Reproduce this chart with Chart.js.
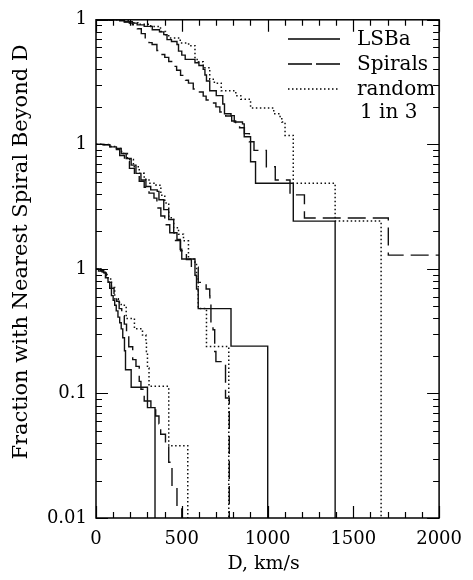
<!DOCTYPE html>
<html>
<head>
<meta charset="utf-8">
<script src="https://cdn.jsdelivr.net/npm/chart.js@4.4.1/dist/chart.umd.min.js"></script>
<style>
  html, body { margin: 0; padding: 0; background: #fff; }
  #wrap { width: 473px; height: 580px; }
</style>
</head>
<body>
<div id="wrap"><canvas id="grafico"></canvas></div>
<script>
// fraction with nearest spiral beyond D, three panels stacked on one log axis
// top panel shifted x100, middle x10, bottom x1
const offsets = [100, 10, 1]

const topLsbaD = [0, 138, 165, 195, 240, 281, 328, 370, 395, 414, 440, 472, 481, 500, 520, 577, 600, 625, 635, 644, 663, 701, 739, 749, 787, 806, 854, 864, 901, 930, 1150, 1394]
const topLsbaF = [1, 0.98, 0.96, 0.941, 0.91, 0.885, 0.833, 0.8, 0.76, 0.693, 0.67, 0.633, 0.56, 0.52, 0.481, 0.452, 0.43, 0.40, 0.36, 0.323, 0.269, 0.246, 0.211, 0.176, 0.17, 0.151, 0.146, 0.115, 0.0725, 0.0487, 0.0242, 0]

const topSpirD = [0, 80, 166, 212, 241, 264, 287, 309, 327, 355, 378, 401, 424, 453, 470, 493, 522, 539, 567, 596, 625, 642, 671, 699, 722, 756, 791, 814, 837, 865, 894, 921, 993, 1045, 1131, 1215, 1704, 2000]
const topSpirF = [1, 0.99, 0.964, 0.912, 0.848, 0.774, 0.693, 0.656, 0.633, 0.567, 0.527, 0.499, 0.463, 0.423, 0.393, 0.358, 0.327, 0.31, 0.278, 0.263, 0.244, 0.227, 0.215, 0.2, 0.182, 0.169, 0.154, 0.146, 0.136, 0.122, 0.105, 0.0895, 0.0661, 0.0518, 0.0393, 0.0256, 0.0129, 0.0129]

const topRandD = [0, 138, 195, 250, 319, 376, 405, 424, 491, 540, 577, 596, 625, 663, 690, 730, 815, 844, 901, 1036, 1073, 1083, 1102, 1150, 1394, 1662]
const topRandF = [1, 0.99, 0.947, 0.92, 0.885, 0.807, 0.76, 0.715, 0.652, 0.62, 0.481, 0.46, 0.413, 0.333, 0.31, 0.269, 0.246, 0.23, 0.196, 0.176, 0.165, 0.151, 0.118, 0.0487, 0.0242, 0]

const midLsbaD = [0, 42, 80, 119, 147, 176, 205, 233, 262, 291, 319, 357, 367, 395, 424, 453, 472, 491, 500, 577, 586, 596, 787, 1001]
const midLsbaF = [1, 0.99, 0.954, 0.925, 0.844, 0.77, 0.681, 0.585, 0.518, 0.459, 0.431, 0.419, 0.359, 0.299, 0.249, 0.195, 0.172, 0.144, 0.12, 0.089, 0.069, 0.048, 0.024, 0]

const midSpirD = [0, 40, 80, 109, 138, 166, 195, 224, 252, 281, 309, 338, 355, 378, 401, 430, 458, 493, 527, 556, 596, 642, 663, 664, 670, 682, 692, 699, 755, 777]
const midSpirF = [1, 0.995, 0.96, 0.908, 0.814, 0.729, 0.641, 0.564, 0.506, 0.453, 0.406, 0.37, 0.308, 0.266, 0.226, 0.195, 0.169, 0.14, 0.119, 0.103, 0.078, 0.069, 0.061, 0.052, 0.036, 0.0325, 0.0217, 0.018, 0.0092, 0]

const midRandD = [0, 40, 80, 115, 149, 183, 218, 252, 281, 309, 350, 378, 401, 424, 453, 481, 510, 539, 577, 586, 596, 644, 774]
const midRandF = [1, 0.995, 0.96, 0.925, 0.844, 0.757, 0.66, 0.585, 0.524, 0.488, 0.47, 0.39, 0.338, 0.257, 0.214, 0.19, 0.168, 0.12, 0.113, 0.083, 0.048, 0.0238, 0]

const botLsbaD = [0, 15, 42, 55, 70, 80, 90, 100, 109, 118, 128, 138, 147, 156, 166, 172, 205, 300, 344]
const botLsbaF = [1, 0.96, 0.94, 0.85, 0.78, 0.70, 0.61, 0.56, 0.51, 0.46, 0.41, 0.37, 0.33, 0.28, 0.22, 0.155, 0.112, 0.077, 0]

const botSpirD = [0, 25, 45, 60, 75, 90, 105, 120, 135, 150, 165, 178, 191, 214, 233, 252, 262, 281, 320, 348, 367, 377, 405, 424, 443, 472, 500]
const botSpirF = [1, 0.97, 0.93, 0.86, 0.78, 0.70, 0.62, 0.55, 0.48, 0.42, 0.36, 0.30, 0.237, 0.187, 0.165, 0.125, 0.108, 0.087, 0.075, 0.066, 0.057, 0.047, 0.038, 0.028, 0.018, 0.0125, 0]

const botRandD = [0, 30, 52, 70, 90, 109, 130, 147, 176, 224, 271, 291, 294, 300, 309, 424, 535]
const botRandF = [1, 0.95, 0.9, 0.83, 0.71, 0.575, 0.54, 0.51, 0.40, 0.33, 0.294, 0.26, 0.217, 0.16, 0.114, 0.038, 0]

const yTickLabels = ['0.01', '0.1', '1', '1', '1']
const legendLabels = ['LSBa', 'Spirals', 'random', '1 in 3']

const FONTE = 'DejaVu Serif'
const SOLIDO = []
const TRACO = [18, 7]
const PONTO = [1.5, 2.5]
const PISO = 0.001 // a fraction of zero falls off the bottom of the log axis

function curva(d, f, off, dash) {
    return {
        data: d.map((v, i) => ({ x: v, y: Math.max(f[i] * off, PISO) })),
        borderColor: '#111',
        borderWidth: dash === PONTO ? 1.5 : 1.4,
        borderDash: dash,
        borderCapStyle: 'butt',
        stepped: true,
        pointRadius: 0,
        fill: false,
    }
}

const datasets = [
    curva(topLsbaD, topLsbaF, offsets[0], SOLIDO),
    curva(topSpirD, topSpirF, offsets[0], TRACO),
    curva(topRandD, topRandF, offsets[0], PONTO),
    curva(midLsbaD, midLsbaF, offsets[1], SOLIDO),
    curva(midSpirD, midSpirF, offsets[1], TRACO),
    curva(midRandD, midRandF, offsets[1], PONTO),
    curva(botLsbaD, botLsbaF, offsets[2], SOLIDO),
    curva(botSpirD, botSpirF, offsets[2], TRACO),
    curva(botRandD, botRandF, offsets[2], PONTO),
]

// frame with inward ticks, legend and axis titles
const moldura = {
    id: 'moldura',
    afterDraw(chart) {
        const { ctx, chartArea: a, scales: { x, y } } = chart
        ctx.save()
        ctx.strokeStyle = '#000'
        ctx.setLineDash([])
        ctx.lineWidth = 1.5
        ctx.strokeRect(a.left, a.top, a.right - a.left, a.bottom - a.top)

        ctx.lineWidth = 1.2
        ctx.beginPath()
        for (let v = 0; v <= 2000; v += 100) {
            const px = Math.round(x.getPixelForValue(v)) + 0.5
            const len = v % 500 === 0 ? 12 : 6
            ctx.moveTo(px, a.bottom); ctx.lineTo(px, a.bottom - len)
            ctx.moveTo(px, a.top); ctx.lineTo(px, a.top + len)
        }
        for (let e = -2; e <= 2; e++) {
            for (let k = 1; k < 10; k++) {
                const v = k * Math.pow(10, e)
                if (v > 100) break
                const py = Math.round(y.getPixelForValue(v)) + 0.5
                const len = k === 1 ? 12 : 6
                ctx.moveTo(a.left, py); ctx.lineTo(a.left + len, py)
                ctx.moveTo(a.right, py); ctx.lineTo(a.right - len, py)
            }
        }
        ctx.stroke()

        // legend
        ctx.fillStyle = '#000'
        ctx.font = '20px "' + FONTE + '"'
        ctx.textBaseline = 'alphabetic'
        ctx.textAlign = 'left'
        const estilos = [SOLIDO, TRACO, PONTO]
        const bases = [45, 70, 95, 118]
        legendLabels.forEach((t, i) => {
            ctx.fillText(t, i === 3 ? 360 : 357, bases[i])
            if (i < 3) {
                ctx.beginPath()
                ctx.setLineDash(estilos[i] === TRACO ? [24, 4] : estilos[i])
                ctx.lineWidth = 1.3
                ctx.moveTo(288, bases[i] - 6)
                ctx.lineTo(340, bases[i] - 6)
                ctx.stroke()
            }
        })
        ctx.setLineDash([])

        // axis titles
        ctx.textAlign = 'center'
        ctx.textBaseline = 'middle'
        ctx.font = '19px "' + FONTE + '"'
        ctx.fillText('D, km/s', (a.left + a.right) / 2 - 4, 564)
        ctx.font = '21px "' + FONTE + '"'
        ctx.translate(22, 252)
        ctx.rotate(-Math.PI / 2)
        ctx.fillText('Fraction with Nearest Spiral Beyond D', 0, 0)
        ctx.restore()
    }
}

const meuchart = document.getElementById('grafico')

const config = {
    type: 'line',
    data: { datasets: datasets },
    options: {
        responsive: true,
        maintainAspectRatio: false,
        animation: false,
        layout: { padding: { top: 15, right: 28, left: 0, bottom: 0 } },
        plugins: {
            legend: { display: false },
            tooltip: { enabled: false },
        },
        scales: {
            x: {
                type: 'linear',
                min: 0,
                max: 2000,
                grid: { display: false, drawTicks: false },
                border: { display: false },
                ticks: {
                    stepSize: 500,
                    padding: 11,
                    maxRotation: 0,
                    color: '#000',
                    font: { size: 18, family: FONTE },
                    callback: (v) => String(v),
                },
                afterFit: (s) => { s.height = 62 },
            },
            y: {
                type: 'logarithmic',
                min: 0.01,
                max: 100,
                grid: { display: false, drawTicks: false },
                border: { display: false },
                afterBuildTicks: (s) => {
                    s.ticks = [0.01, 0.1, 1, 10, 100].map(v => ({ value: v }))
                },
                ticks: {
                    padding: 9,
                    color: '#000',
                    font: { size: 18, family: FONTE },
                    callback: (v) => yTickLabels[Math.round(Math.log10(v)) + 2],
                },
                afterFit: (s) => { s.width = 96 },
            },
        },
    },
    plugins: [moldura],
}

const chart = new Chart(meuchart, config)
</script>
</body>
</html>
